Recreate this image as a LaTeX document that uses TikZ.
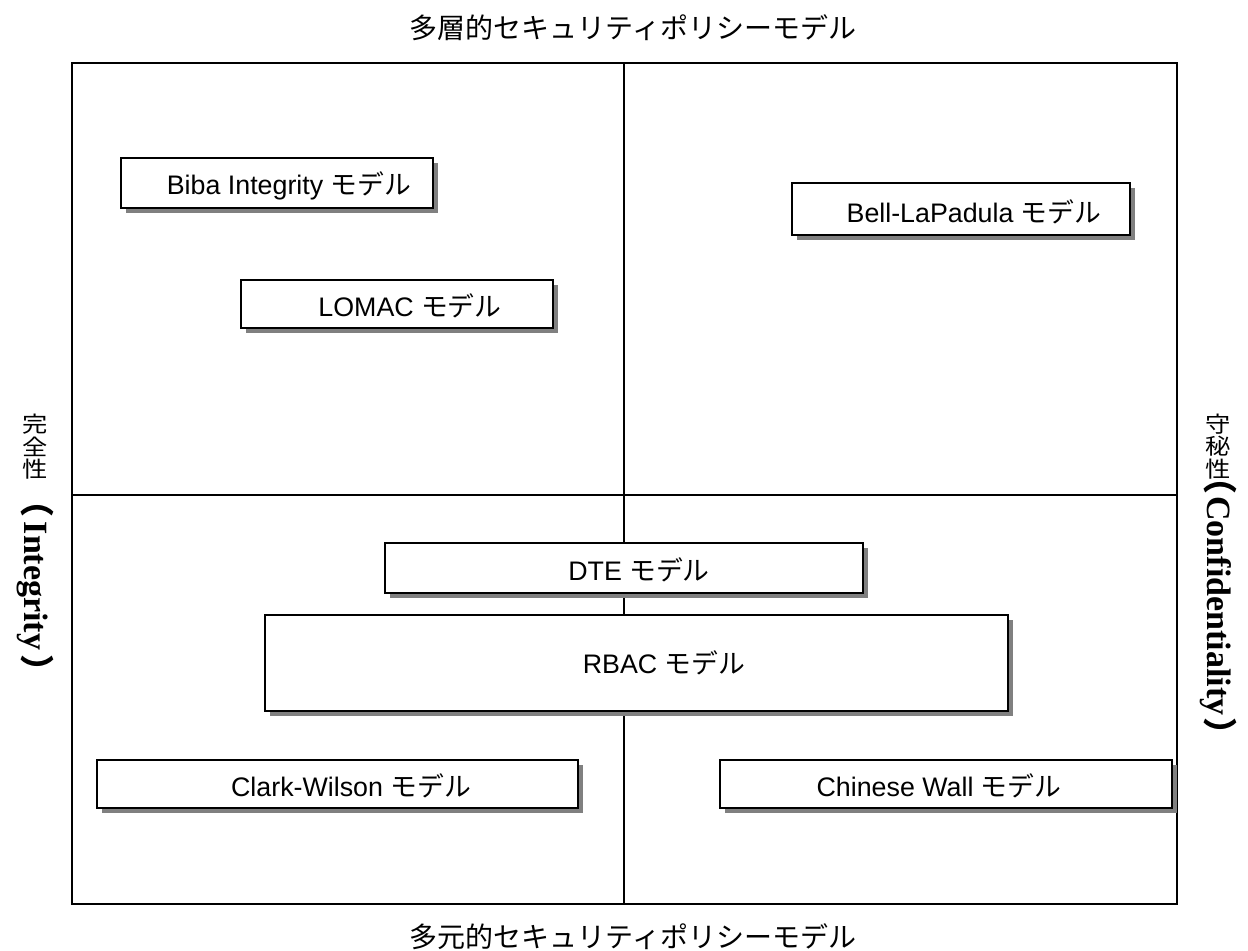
\documentclass[tikz,border=0pt]{standalone}
\usepackage{fontspec}
\setmainfont{Liberation Serif}
\setsansfont{Liberation Sans}
\newfontfamily\jp{Noto Sans CJK JP}
\usetikzlibrary{shadows}
\tikzset{
  frame/.style={line width=0.8pt, draw=black},
  mbox/.style={draw=black, line width=1pt, fill=white, inner sep=0pt,
    drop shadow={shadow xshift=2.6pt, shadow yshift=-2.6pt, opacity=1, fill=black!50}},
  btext/.style={font=\sffamily\fontsize{13.4}{15}\selectfont, inner sep=0pt},
  ttext/.style={font=\jp\fontsize{14}{16}\selectfont, inner sep=0pt},
  vchar/.style={font=\jp\fontsize{11}{13}\selectfont, inner sep=0pt, xscale=1.15},
  vtext/.style={font=\bfseries\fontsize{17}{19}\selectfont, inner sep=0pt, rotate=-90},
}
\begin{document}
\begin{tikzpicture}[x=0.5pt, y=-0.5pt]
\useasboundingbox (0,0) rectangle (1248,951);
% frame and axes
\coordinate (tl) at (72,63);
\coordinate (br) at (1177,904);
\coordinate (vt) at (624,63);
\coordinate (vb) at (624,904);
\coordinate (hl) at (72,495);
\coordinate (hr) at (1177,495);
\draw[frame] (tl) rectangle (br);
\draw[frame] (vt) -- (vb);
\draw[frame] (hl) -- (hr);
% titles
\node[ttext] (top) at (633,28) {多層的セキュリティポリシーモデル};
\node[ttext] (bottom) at (633,937) {多元的セキュリティポリシーモデル};
% left label
\node[vchar] (l1) at (35,424) {完};
\node[vchar] (l2) at (35,446.5) {全};
\node[vchar] (l3) at (35,469) {性};
\node[vtext] (l4) at (35,586) {{\jp （}\hspace{2pt}Integrity\hspace{2pt}{\jp ）}};
% right label
\node[vchar] (r1) at (1218,424) {守};
\node[vchar] (r2) at (1218,446.5) {秘};
\node[vchar] (r3) at (1218,469) {性};
\node[vtext] (r4) at (1218,606) {{\jp （}\hspace{1pt}Confidentiality\hspace{1pt}{\jp ）}};
% boxes
\node[mbox, minimum width=156pt, minimum height=25pt] (biba) at (277,183) {};
\node[btext] (bibat) at (289,186) {Biba Integrity {\jp モデル}};
\node[mbox, minimum width=169pt, minimum height=26pt] (bell) at (961,209) {};
\node[btext] (bellt) at (974,212) {Bell-LaPadula {\jp モデル}};
\node[mbox, minimum width=156pt, minimum height=24pt] (lomac) at (397,304) {};
\node[btext] (lomact) at (410,306) {LOMAC {\jp モデル}};
\node[mbox, minimum width=239pt, minimum height=25pt] (dte) at (624,568) {};
\node[btext] (dtet) at (639,570) {DTE {\jp モデル}};
\node[mbox, minimum width=371.5pt, minimum height=48pt] (rbac) at (636.5,663) {};
\node[btext] (rbact) at (664,663) {RBAC {\jp モデル}};
\node[mbox, minimum width=240.5pt, minimum height=24pt] (clark) at (337.5,784) {};
\node[btext] (clarkt) at (351,786) {Clark-Wilson {\jp モデル}};
\node[mbox, minimum width=226pt, minimum height=24pt] (chinese) at (946,784) {};
\node[btext] (chineset) at (939,786) {Chinese Wall {\jp モデル}};
\end{tikzpicture}
\end{document}
